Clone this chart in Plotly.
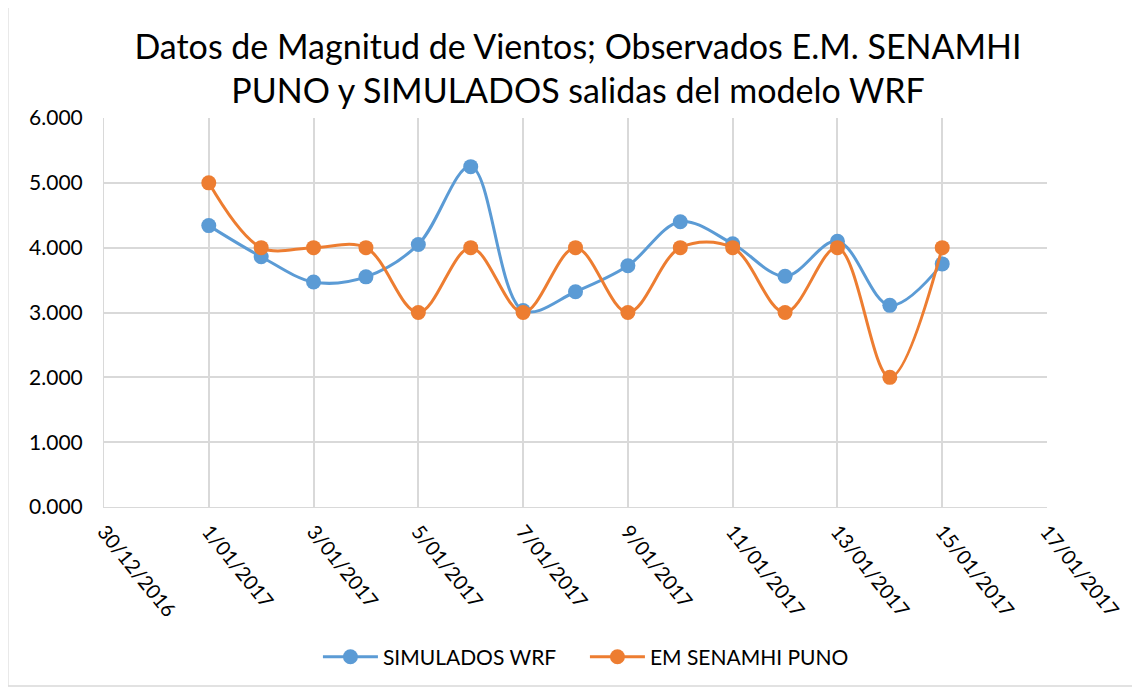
import plotly.graph_objects as go

# fechas y valores
fechas = ["2017-01-%02d" % d for d in range(1, 16)]
simulados_wrf = [4.34, 3.86, 3.47, 3.55, 4.05, 5.25, 3.03, 3.32, 3.72,
                 4.40, 4.06, 3.56, 4.10, 3.11, 3.75]
em_senamhi_puno = [5, 4, 4, 4, 3, 4, 3, 4, 3, 4, 4, 3, 4, 2, 4]

azul = "#5b9bd5"
naranja = "#ed7d31"
fuente = "Lato, 'Open Sans', sans-serif"

fig = go.Figure()
fig.add_trace(go.Scatter(
    name="SIMULADOS WRF",
    x=fechas,
    y=simulados_wrf,
    mode="lines+markers",
    line=dict(color=azul, width=3, shape="spline", smoothing=1.0),
    marker=dict(color=azul, size=15),
))
fig.add_trace(go.Scatter(
    name="EM SENAMHI PUNO",
    x=fechas,
    y=em_senamhi_puno,
    mode="lines+markers",
    line=dict(color=naranja, width=3, shape="spline", smoothing=1.0),
    marker=dict(color=naranja, size=15),
))

# la pagina tiene 8px de margen en body, se compensa aqui
fig.update_layout(
    width=1140,
    height=690,
    margin=dict(l=96, r=101, t=110, b=191, autoexpand=False),
    paper_bgcolor="white",
    plot_bgcolor="white",
    font=dict(family=fuente, size=20, color="#000000"),
    title=dict(
        text="Datos de Magnitud de Vientos; Observados E.M. SENAMHI<br>PUNO y SIMULADOS salidas del modelo WRF",
        x=0.5, xanchor="center",
        y=1 - 51 / 690, yanchor="middle",
        font=dict(family=fuente, size=34, color="#000000"),
    ),
    legend=dict(
        orientation="h",
        x=0.51, xanchor="center",
        y=-0.386, yanchor="middle",
        font=dict(family=fuente, size=21),
        itemwidth=55,
        entrywidth=197,
        entrywidthmode="pixels",
    ),
    showlegend=True,
)

fig.update_xaxes(
    type="date",
    range=["2016-12-30", "2017-01-17"],
    tick0="2016-12-30",
    dtick=2 * 24 * 3600 * 1000,
    tickformat="%-d/%m/%Y",
    tickangle=51,
    automargin=False,
    showgrid=True,
    gridcolor="#d9d9d9",
    gridwidth=1.5,
    zeroline=False,
    showline=True,
    linecolor="#d9d9d9",
    ticks="outside",
    ticklen=4,
    tickcolor="white",
    tickfont=dict(size=20),
)
fig.update_yaxes(
    range=[0, 6],
    dtick=1,
    tickformat=".3f",
    automargin=False,
    showgrid=True,
    gridcolor="#d9d9d9",
    gridwidth=1.5,
    zeroline=False,
    showline=True,
    linecolor="#d9d9d9",
    ticks="outside",
    ticklen=16,
    tickcolor="white",
    tickfont=dict(size=21),
)

# marco del area del grafico
fig.add_shape(
    type="rect", xref="paper", yref="paper",
    x0=-0.102, x1=1.0965, y0=-0.46, y1=1.298,
    line=dict(color="#d9d9d9", width=1.5),
)

fig.write_html("out.html")
